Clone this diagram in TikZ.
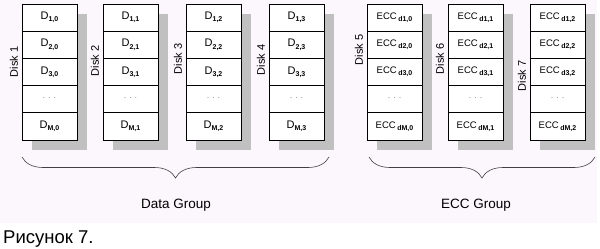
\documentclass[tikz,border=0pt]{standalone}
\usepackage{fontspec}
\setmainfont{Liberation Sans}
\usetikzlibrary{decorations.pathreplacing}
\definecolor{paper}     {HTML}{FCF7FC}
\definecolor{shadowGray}{HTML}{C0C0C0}
\definecolor{braceGray} {HTML}{404040}
\definecolor{dotGray}   {HTML}{909090}
\newcommand{\idx}[1]{\raisebox{-2.2pt}{\fontsize{7}{8}\selectfont\bfseries #1}}
\newcommand{\dotrow}{\raisebox{2pt}{\textcolor{dotGray}{\fontsize{9}{10}\selectfont .\hspace{3pt}.\hspace{3pt}.}}}

\begin{document}
\begin{tikzpicture}[x=1pt, y=-1pt,
   cell/.style={rectangle, draw=black, fill=white, line width=0.7pt, minimum width=55pt,
                minimum height=27.2pt, inner sep=0pt, font=\fontsize{11}{13}\selectfont},
   ecccell/.style={cell, font=\fontsize{9.5}{11}\selectfont},
   disklab/.style={rotate=90, inner sep=0pt, font=\fontsize{11}{13}\selectfont},
   dropshadow/.style={fill=shadowGray},
   grpbrace/.style={draw=braceGray, line width=0.6pt, decorate,
                    decoration={brace, mirror, amplitude=21pt}},
   grplab/.style={anchor=base, inner sep=0pt, font=\fontsize{13.5}{16}\selectfont}
]
\useasboundingbox (0,0) rectangle (600,249);
\fill[paper] (0,0) rectangle (597,223);
% data disks
\foreach \c/\xl/\ly [count=\n] in {0/22/62,1/103/61,2/186/59,3/269/60}{
  \fill[dropshadow] (\xl+10,14) rectangle (\xl+65,150);
  \foreach \r/\s in {1/1,2/2,3/3,5/M}{
    \pgfmathsetmacro{\yc}{4+27.2*(\r-0.5)}
    \node[cell] (d\n-\r) at (\xl+27.5,\yc) {D\idx{\s,\c}};
  }
  \node[cell] (d\n-4) at (\xl+27.5,99.2) {\dotrow};
  \node[disklab] (disk\n) at (\xl-8,\ly) {Disk \n};
}
% ECC disks
\foreach \c/\xl/\ly [count=\n from 5] in {0/367/50,1/448/59,2/530/76}{
  \fill[dropshadow] (\xl+10,14) rectangle (\xl+65,150);
  \foreach \r/\s in {1/1,2/2,3/3,5/M}{
    \pgfmathsetmacro{\yc}{4+27.2*(\r-0.5)}
    \node[ecccell] (d\n-\r) at (\xl+27.5,\yc) {ECC\,\idx{d\s,\c}};
  }
  \node[ecccell] (d\n-4) at (\xl+27.5,99.2) {\dotrow};
  \node[disklab] (disk\n) at (\xl-8,\ly) {Disk \n};
}
% groups
\coordinate (dataL) at (22,157);
\coordinate (dataR) at (329,157);
\coordinate (eccL) at (369,157);
\coordinate (eccR) at (595,157);
\draw[grpbrace] (dataL) -- (dataR);
\draw[grpbrace] (eccL) -- (eccR);
\node[grplab] (datagrp) at (176,208) {Data Group};
\node[grplab] (eccgrp) at (476,208) {ECC Group};
\node[anchor=base west, inner sep=0pt, font=\fontsize{18.5}{20}\selectfont] (caption) at (3,243) {Рисунок 7.};
\end{tikzpicture}
\end{document}
